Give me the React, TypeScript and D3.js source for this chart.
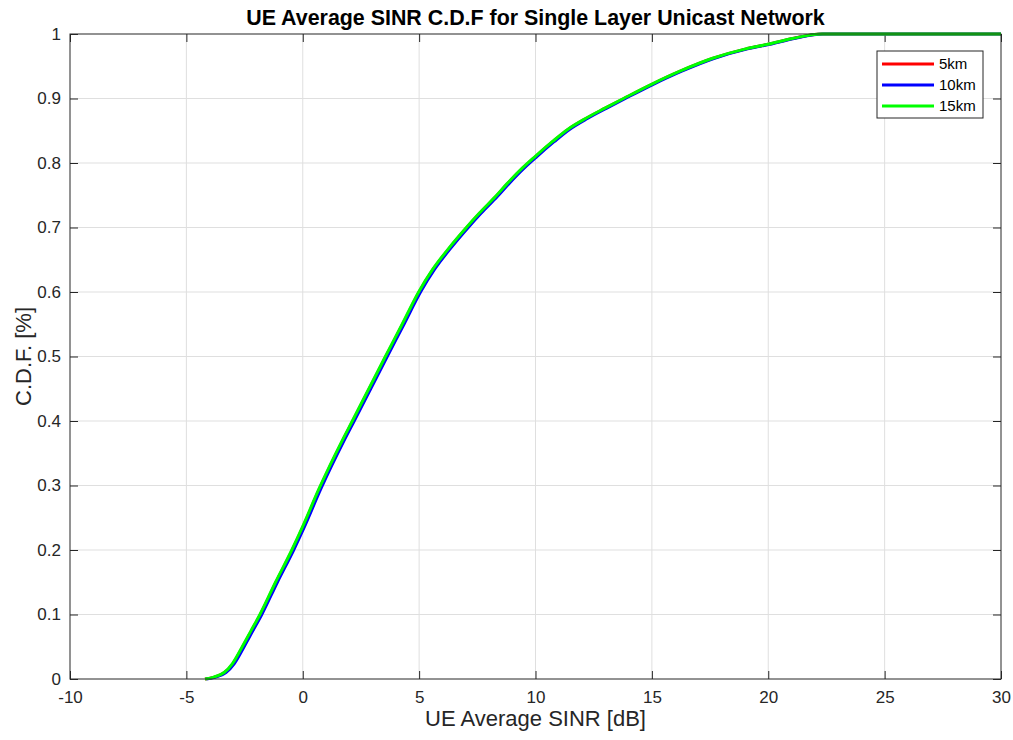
import React, { useRef, useEffect } from 'react';
import * as d3 from 'd3';

// CDF levels shared by the three series
const cdfLevels = [0, 0.003, 0.01, 0.024, 0.05, 0.075, 0.1, 0.15, 0.2, 0.235, 0.295, 0.37, 0.4, 0.45, 0.5, 0.55, 0.6, 0.635, 0.668, 0.7, 0.722, 0.748, 0.768, 0.792, 0.81, 0.833, 0.852, 0.869, 0.885, 0.9, 0.922, 0.942, 0.962, 0.977, 0.984, 0.993, 1, 1];

const sinr5km = [-4.2, -3.8, -3.36, -3.0, -2.58, -2.2, -1.82, -1.15, -0.45, 0.0, 0.72, 1.72, 2.15, 2.86, 3.57, 4.29, 5.0, 5.6, 6.3, 7.05, 7.6, 8.3, 8.8, 9.45, 10.0, 10.74, 11.4, 12.17, 13.0, 13.8, 15.0, 16.2, 17.6, 19.05, 20.0, 21.05, 22.3, 30];
const sinr10km = [-4.14, -3.74, -3.3, -2.94, -2.52, -2.14, -1.76, -1.09, -0.39, 0.06, 0.78, 1.78, 2.21, 2.92, 3.63, 4.35, 5.06, 5.66, 6.36, 7.11, 7.66, 8.36, 8.86, 9.51, 10.06, 10.8, 11.46, 12.23, 13.06, 13.86, 15.06, 16.26, 17.66, 19.11, 20.06, 21.11, 22.36, 30];
const sinr15km = [-4.2, -3.82, -3.38, -3.02, -2.6, -2.22, -1.84, -1.17, -0.47, -0.02, 0.7, 1.7, 2.13, 2.84, 3.55, 4.27, 4.98, 5.58, 6.28, 7.03, 7.58, 8.28, 8.78, 9.43, 9.98, 10.72, 11.38, 12.15, 12.98, 13.78, 14.98, 16.18, 17.58, 19.03, 19.98, 21.03, 22.3, 30];

const seriesNames = ['5km', '10km', '15km'];
const seriesColors = ['#ff0000', '#0000ff', '#00ff00'];
const seriesX = [sinr5km, sinr10km, sinr15km];

const xTicks = [-10, -5, 0, 5, 10, 15, 20, 25, 30];
const yTicks = [0, 0.1, 0.2, 0.3, 0.4, 0.5, 0.6, 0.7, 0.8, 0.9, 1];

function App() {
  const svgRef = useRef<SVGSVGElement>(null);

  useEffect(() => {
    const svg = d3.select(svgRef.current);
    svg.selectAll("*").remove();

    const width = 1013;
    const height = 740;
    const margin = { top: 34, right: 12, bottom: 61, left: 70 };
    const axisColor = "#262626";
    const font = "'Liberation Sans', Arial, Helvetica, sans-serif";

    svg.attr("width", width).attr("height", height)
      .style("font-family", font);

    svg.append("rect").attr("width", width).attr("height", height).attr("fill", "white");

    const x = d3.scaleLinear()
      .domain([-10, 30])
      .range([margin.left, width - margin.right]);

    const y = d3.scaleLinear()
      .domain([0, 1])
      .range([height - margin.bottom, margin.top]);

    const [x0, x1] = x.range();
    const [y0, y1] = y.range();

    // grid
    svg.append("g").selectAll("line")
      .data(xTicks.slice(1, -1))
      .enter().append("line")
      .attr("x1", d => x(d)).attr("x2", d => x(d))
      .attr("y1", y1).attr("y2", y0)
      .attr("stroke", "#dfdfdf").attr("stroke-width", 1);

    svg.append("g").selectAll("line")
      .data(yTicks.slice(1, -1))
      .enter().append("line")
      .attr("x1", x0).attr("x2", x1)
      .attr("y1", d => y(d)).attr("y2", d => y(d))
      .attr("stroke", "#dfdfdf").attr("stroke-width", 1);

    // axes with inward ticks on all four sides
    const tickLen = 8;
    const styleText = (g: any) => g.selectAll("text")
      .attr("fill", axisColor).style("font-size", "17px").style("font-family", font);

    svg.append("g")
      .attr("transform", `translate(0, ${y0})`)
      .call(d3.axisBottom(x).tickValues(xTicks).tickFormat(d => String(d)).tickSizeInner(-tickLen).tickSizeOuter(0).tickPadding(12))
      .call(g => g.select(".domain").remove())
      .call(g => g.selectAll("line").attr("stroke", axisColor))
      .call(styleText);

    svg.append("g")
      .attr("transform", `translate(${x0}, 0)`)
      .call(d3.axisLeft(y).tickValues(yTicks).tickFormat(d => String(d)).tickSizeInner(-tickLen).tickSizeOuter(0).tickPadding(9))
      .call(g => g.select(".domain").remove())
      .call(g => g.selectAll("line").attr("stroke", axisColor))
      .call(styleText);

    svg.append("g")
      .attr("transform", `translate(0, ${y1})`)
      .call(d3.axisTop(x).tickValues(xTicks).tickSizeInner(-tickLen).tickSizeOuter(0).tickFormat(() => ""))
      .call(g => g.select(".domain").remove())
      .call(g => g.selectAll("line").attr("stroke", axisColor));

    svg.append("g")
      .attr("transform", `translate(${x1}, 0)`)
      .call(d3.axisRight(y).tickValues(yTicks).tickSizeInner(-tickLen).tickSizeOuter(0).tickFormat(() => ""))
      .call(g => g.select(".domain").remove())
      .call(g => g.selectAll("line").attr("stroke", axisColor));

    // lines
    const line = d3.line<[number, number]>()
      .x(d => x(d[0]))
      .y(d => y(d[1]))
      .curve(d3.curveMonotoneX);

    seriesX.forEach((xs, i) => {
      const pts = xs.map((v, j) => [v, cdfLevels[j]] as [number, number]);
      svg.append("path")
        .datum(pts)
        .attr("fill", "none")
        .attr("stroke", seriesColors[i])
        .attr("stroke-width", 3)
        .attr("stroke-linejoin", "round")
        .attr("d", line);
    });

    // box
    svg.append("rect")
      .attr("x", x0).attr("y", y1)
      .attr("width", x1 - x0).attr("height", y0 - y1)
      .attr("fill", "none").attr("stroke", axisColor).attr("stroke-width", 1);

    // title
    svg.append("text")
      .attr("x", (x0 + x1) / 2)
      .attr("y", 25)
      .attr("text-anchor", "middle")
      .attr("fill", "#000")
      .style("font-size", "21.4px")
      .style("font-weight", "bold")
      .text("UE Average SINR C.D.F for Single Layer Unicast Network");

    svg.append("text")
      .attr("x", (x0 + x1) / 2)
      .attr("y", 726)
      .attr("text-anchor", "middle")
      .attr("fill", axisColor)
      .style("font-size", "22px")
      .text("UE Average SINR [dB]");

    svg.append("text")
      .attr("x", -(y0 + y1) / 2)
      .attr("y", 31)
      .attr("transform", "rotate(-90)")
      .attr("text-anchor", "middle")
      .attr("fill", axisColor)
      .style("font-size", "22px")
      .text("C.D.F. [%]");

    // legend
    const legend = svg.append("g").attr("transform", "translate(877, 51)");
    legend.append("rect")
      .attr("width", 106).attr("height", 67)
      .attr("fill", "white").attr("stroke", axisColor).attr("stroke-width", 1);
    seriesNames.forEach((name, i) => {
      const ly = 13 + i * 21;
      legend.append("line")
        .attr("x1", 5).attr("x2", 57)
        .attr("y1", ly).attr("y2", ly)
        .attr("stroke", seriesColors[i]).attr("stroke-width", 3);
      legend.append("text")
        .attr("x", 62).attr("y", ly + 5)
        .attr("fill", "#000")
        .style("font-size", "15px")
        .text(name);
    });
  }, []);

  return <svg ref={svgRef} style={{ position: "absolute", left: 0, top: 0 }}></svg>;
}

export default App;
